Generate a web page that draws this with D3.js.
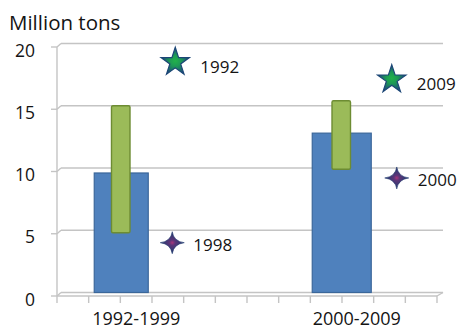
<!DOCTYPE html>
<html>
<head>
<meta charset="utf-8">
<script src="https://cdn.jsdelivr.net/npm/d3@7/dist/d3.min.js"></script>
<style>
  html, body { margin: 0; padding: 0; background: #fff; }
  svg { display: block; }
  text { font-family: "Open Sans", "Noto Sans", sans-serif; fill: #141414; }
</style>
</head>
<body>
<svg id="chart" width="467" height="331"></svg>
<script>
// Catch per period: average (blue), yearly range (green), extreme years (markers)
const categories = ["1992-1999", "2000-2009"];
const averages   = [9.6, 12.8];
const rangeLow   = [4.8, 9.9];
const rangeHigh  = [15.0, 15.4];
const maxYears   = ["1992", "2009"];
const maxValues  = [18.5, 17.1];
const minYears   = ["1998", "2000"];
const minValues  = [4.0, 9.2];
const yTicks     = [0, 5, 10, 15, 20];
const yTitle     = "Million tons";

const svg = d3.select("#chart");

// depth offset of the pseudo-3D frame (front plane vs back wall)
const dx = 4, dy = 3.5;
const left = 57, right = 443;

const y = d3.scaleLinear().domain([0, 20]).range([292.5, 43.5]);
const x = d3.scaleBand().domain(categories).range([11, 452]).padding(0);
const minor = d3.scaleLinear().domain([0, 12]).range([left, right - dx - 2]);

const grid = "#c4c4c4";

// gradients for the markers
const defs = svg.append("defs");
const gStar = defs.append("radialGradient").attr("id", "starFill");
gStar.append("stop").attr("offset", "0%").attr("stop-color", "#22b24a");
gStar.append("stop").attr("offset", "40%").attr("stop-color", "#1d9a55");
gStar.append("stop").attr("offset", "100%").attr("stop-color", "#1c4a7c");
const gCross = defs.append("radialGradient").attr("id", "crossFill");
gCross.append("stop").attr("offset", "0%").attr("stop-color", "#a8357a");
gCross.append("stop").attr("offset", "25%").attr("stop-color", "#5a3578");
gCross.append("stop").attr("offset", "100%").attr("stop-color", "#1f3a6e");

// back-wall gridlines with their side-wall slant and y ticks
const frame = svg.append("g").attr("stroke", grid).attr("stroke-width", 1.4).attr("fill", "none");
yTicks.forEach(v => {
  frame.append("line").attr("x1", left + dx).attr("x2", right).attr("y1", y(v)).attr("y2", y(v));
  frame.append("line").attr("x1", left).attr("x2", left + dx).attr("y1", y(v) + dy).attr("y2", y(v));
  frame.append("line").attr("x1", left - 6).attr("x2", left).attr("y1", y(v) + dy).attr("y2", y(v) + dy);
});
// vertical axis
frame.append("line").attr("x1", left).attr("x2", left).attr("y1", y(20) + dy).attr("y2", y(0) + dy);
// floor front edge and right corner
frame.append("line").attr("x1", left).attr("x2", right - dx - 2).attr("y1", y(0) + dy).attr("y2", y(0) + dy);
frame.append("line").attr("x1", right - dx - 2).attr("x2", right).attr("y1", y(0) + dy).attr("y2", y(0));
// x minor ticks
d3.range(13).forEach(i => {
  frame.append("line").attr("x1", minor(i)).attr("x2", minor(i))
    .attr("y1", y(0) + dy).attr("y2", y(0) + dy + 7);
});

// y tick labels
svg.append("g").selectAll("text").data(yTicks).join("text")
  .attr("x", 35).attr("y", d => y(d) + 6)
  .attr("text-anchor", "end").attr("dominant-baseline", "central")
  .attr("font-size", 17.5).text(d => d);

svg.append("text").attr("x", 9).attr("y", 30).attr("font-size", 20.5).text(yTitle);

// x category labels
svg.append("g").selectAll("text").data(categories).join("text")
  .attr("x", d => x(d) + x.bandwidth() / 2 + 15).attr("y", 325)
  .attr("text-anchor", "middle").attr("font-size", 18).text(d => d);

// average bars
const blueW = [54, 59];
svg.append("g").selectAll("rect").data(categories).join("rect")
  .attr("x", (d, i) => x(d) + x.bandwidth() / 2 - blueW[i] / 2)
  .attr("width", (d, i) => blueW[i])
  .attr("y", (d, i) => y(averages[i]))
  .attr("height", (d, i) => y(0) - y(averages[i]))
  .attr("fill", "#4f81bd").attr("stroke", "#3b679a").attr("stroke-width", 1.2);

// range bars
const greenW = 18.5;
svg.append("g").selectAll("rect").data(categories).join("rect")
  .attr("x", d => x(d) + x.bandwidth() / 2 - greenW / 2 - 0.5)
  .attr("width", greenW)
  .attr("y", (d, i) => y(rangeHigh[i]))
  .attr("height", (d, i) => y(rangeLow[i]) - y(rangeHigh[i]))
  .attr("rx", 1.5)
  .attr("fill", "#9bbb59").attr("stroke", "#6d8c33").attr("stroke-width", 1.4);

// marker shapes
const starPath = d3.symbol(d3.symbolStar, 250)();
function crossPath(w, h, n) {
  return `M0,${-h} Q${n},${-n} ${w},0 Q${n},${n} 0,${h} Q${-n},${n} ${-w},0 Q${-n},${-n} 0,${-h}Z`;
}

// maximum-year stars
const starOff = [54, 50];
const stars = svg.append("g").selectAll("g").data(categories).join("g")
  .attr("transform", (d, i) => `translate(${x(d) + x.bandwidth() / 2 + starOff[i]},${y(maxValues[i])})`);
stars.append("path").attr("d", starPath)
  .attr("fill", "url(#starFill)").attr("stroke", "#1c4676").attr("stroke-width", 1.2);
stars.append("text").attr("x", 25).attr("y", 0).attr("dominant-baseline", "central")
  .attr("dy", 4).attr("font-size", 17).text((d, i) => maxYears[i]);

// minimum-year crosses
const crossOff = [51, 55];
const crosses = svg.append("g").selectAll("g").data(categories).join("g")
  .attr("transform", (d, i) => `translate(${x(d) + x.bandwidth() / 2 + crossOff[i]},${y(minValues[i])})`);
crosses.append("path").attr("d", crossPath(12, 11, 1.4))
  .attr("fill", "url(#crossFill)").attr("stroke", "#243c70").attr("stroke-width", 0.6);
crosses.append("text").attr("x", 21).attr("y", 0).attr("dominant-baseline", "central")
  .attr("dy", 2).attr("font-size", 17).text((d, i) => minYears[i]);
</script>
</body>
</html>
